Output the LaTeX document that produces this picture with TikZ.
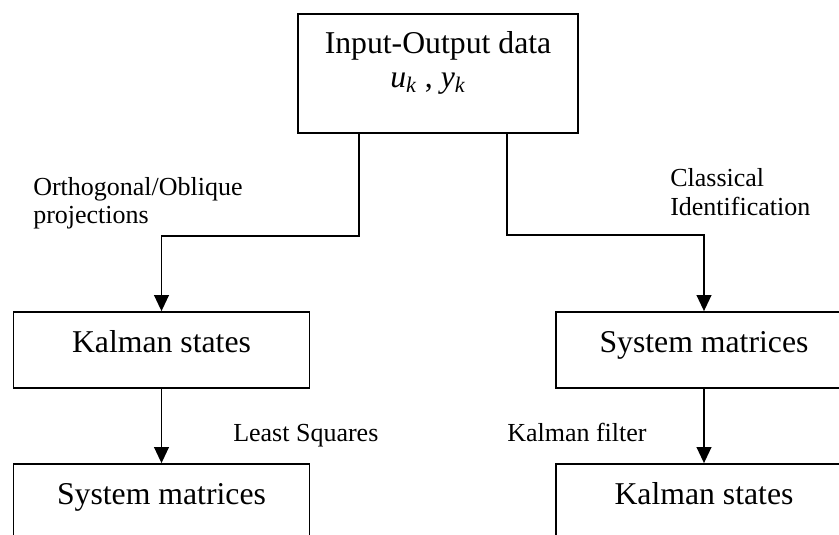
\documentclass[tikz,border=0pt]{standalone}
\usepackage{fontspec}
\setmainfont{Liberation Serif}
\usetikzlibrary{arrows.meta,positioning,calc}

\begin{document}
\begin{tikzpicture}[x=0.75pt, y=-0.75pt,
    block/.style={rectangle, draw=black, line width=1.3pt, minimum width=222pt, inner xsep=0pt, inner ysep=0pt, text height=30pt, text depth=27pt, font=\fontsize{23.8}{28}\selectfont},
    iobox/.style={rectangle, draw=black, line width=1.3pt, minimum width=210pt, minimum height=89.25pt, inner sep=0pt},
    boxtext/.style={inner sep=0pt, font=\fontsize{23.8}{28}\selectfont},
    lbl/.style={inner sep=0pt, anchor=base west, font=\fontsize{19.5}{23}\selectfont},
    arrow/.style={-{Triangle[length=12pt,width=11pt]}, line width=1.3pt}
]
    \useasboundingbox (0,0) rectangle (839,535);
    \clip (0,0) rectangle (839,535);

    % data box
    \node[iobox, anchor=north] (io) at (438,13) {};
    \node[boxtext, anchor=base] (iotitle) at (438,54) {Input-Output data};
    \node[boxtext, anchor=base] (iosig) at (428,88) {\textit{u}\textsubscript{\textit{k}} , \textit{y}\textsubscript{\textit{k}}};

    % two routes
    \node[block, anchor=base] (ksleft)  at (161.5,352) {Kalman states};
    \node[block, anchor=base] (smright) at (704,352)   {System matrices};
    \node[block, anchor=base] (smleft)  at (161.5,504) {System matrices};
    \node[block, anchor=base] (ksright) at (704,504)   {Kalman states};

    \draw[arrow] ($(io.south)+(-79,0)$) -- ++(0,102) -| (ksleft.north);
    \draw[arrow] ($(io.south)+(69,0)$) -- ++(0,101) -| (smright.north);
    \draw[arrow] (ksleft) -- (smleft);
    \draw[arrow] (smright) -- (ksright);

    % labels
    \node[lbl] (lblortho) at (33,195)  {Orthogonal/Oblique};
    \node[lbl] (lblproj)  at (33,223)  {projections};
    \node[lbl] (lblclass) at (670,186) {Classical};
    \node[lbl] (lblident) at (670,215) {Identification};
    \node[lbl] (lblls)    at (233,441) {Least Squares};
    \node[lbl] (lblkf)    at (507,441) {Kalman filter};
\end{tikzpicture}
\end{document}
